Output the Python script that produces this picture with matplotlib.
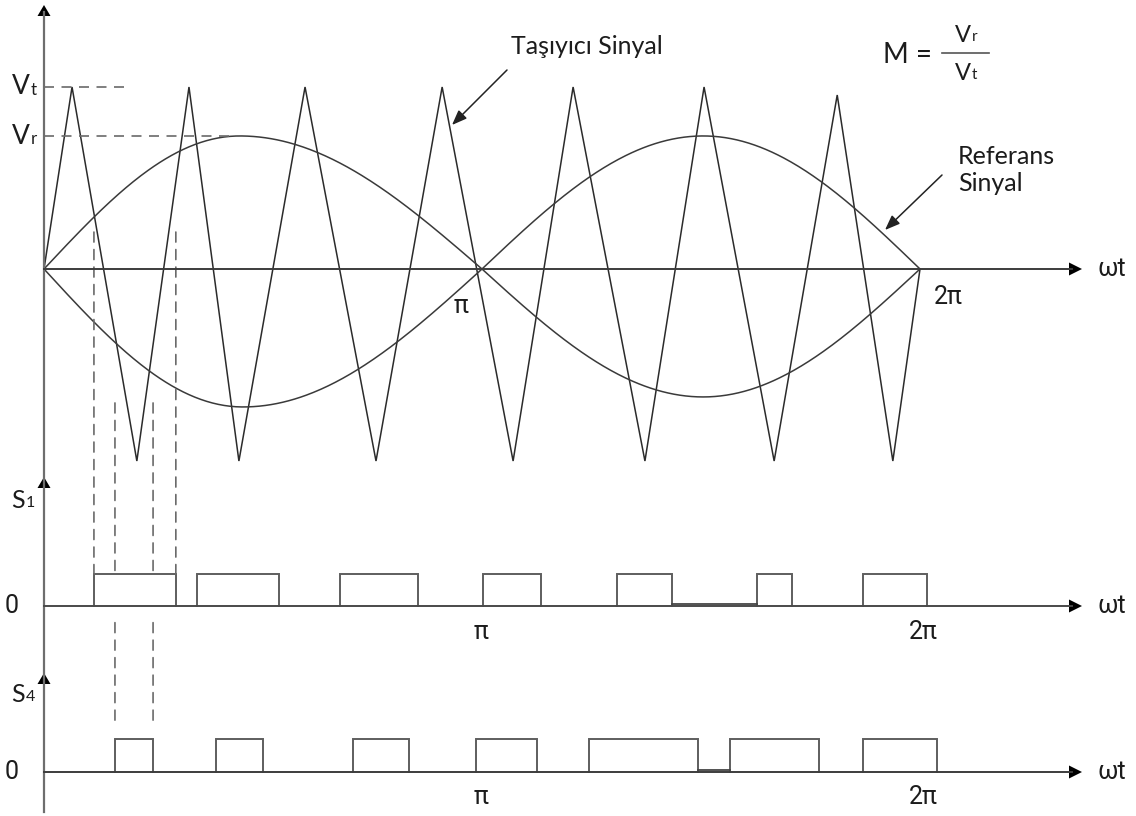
import numpy as np
import matplotlib
matplotlib.use("Agg")
import matplotlib.pyplot as plt
import matplotlib.transforms as mtransforms
from matplotlib.patches import ConnectionPatch, Polygon
from matplotlib.lines import Line2D

# ---------------- data (x axis in units of pi, omega*t / pi) ----------------
carrier_x = [0.0, 0.064, 0.212, 0.331, 0.445, 0.596, 0.758, 0.909, 1.071,
             1.208, 1.372, 1.507, 1.667, 1.811, 1.938, 2.0]
carrier_y = [0.0, 1.0, -1.055, 1.0, -1.055, 1.0, -1.055, 1.0, -1.055,
             1.0, -1.055, 1.0, -1.055, 0.956, -1.055, 0.0]
# reference sine humps (relative to Vt = 1): amplitude and position of the crest
ref_upper_amp = [0.731, 0.731]     # positive humps (0..pi, pi..2pi)
ref_upper_peak = [0.447, 1.505]
ref_lower_amp = [0.758, 0.703]     # negative humps (0..pi, pi..2pi)
ref_lower_peak = [0.454, 1.505]
Vt_level = 1.0
Vr_level = 0.731

s1_pulses = [(0.114, 0.301), (0.349, 0.537), (0.676, 0.854), (1.002, 1.135),
             (1.308, 1.434), (1.628, 1.708), (1.870, 2.016)]
s4_pulses = [(0.162, 0.249), (0.393, 0.500), (0.705, 0.833), (0.986, 1.126),
             (1.244, 1.493), (1.566, 1.769), (1.870, 2.039)]

# ---------------- figure / layout ----------------
W, H = 1136, 816
fig = plt.figure(figsize=(W / 100, H / 100), dpi=100)
fig.patch.set_facecolor("white")
PX = mtransforms.Affine2D().scale(1 / W, -1 / H).translate(0, 1) + fig.transFigure

X0_PX, PX_PER_PI = 44, 438
xlim = (-X0_PX / PX_PER_PI, (W - X0_PX) / PX_PER_PI)


def make_ax(top_px, bot_px, zero_px, unit_px):
    a = fig.add_axes([0, 1 - bot_px / H, 1, (bot_px - top_px) / H])
    a.set_xlim(*xlim)
    a.set_ylim((zero_px - bot_px) / unit_px, (zero_px - top_px) / unit_px)
    a.axis("off")
    a.patch.set_alpha(0)
    return a


ax = make_ax(0, 475, 269, 182)
ax1 = make_ax(475, 640, 606, 32)
ax4 = make_ax(640, 816, 772, 33)

TXT = "#1c1c1c"
SANS = ["Lato", "DejaVu Sans"]
DIN = ["Roboto", "DejaVu Sans"]
AXC = "#6e6e6e"

# ---------------- axes lines & arrowheads ----------------
fig.add_artist(Line2D([44, 44], [12, 812], transform=PX, color=AXC, lw=1.6))
for ytip in (5, 477, 673):
    fig.add_artist(Polygon([[44, ytip], [37.5, ytip + 11], [50.5, ytip + 11]],
                           closed=True, transform=PX, color="black", lw=0))
for ybase, col in ((269, "#3c3c3c"), (606, "#4a4a4a"), (772, "#3c3c3c")):
    fig.add_artist(Line2D([44, 1072], [ybase, ybase], transform=PX, color=col, lw=1.4))
    fig.add_artist(Polygon([[1082, ybase], [1069, ybase - 6.5], [1069, ybase + 6.5]],
                           closed=True, transform=PX, color="black", lw=0))
    fig.text(1112, ybase, "ωt", transform=PX, ha="center", va="center",
             fontsize=18, family=DIN, color=TXT)

# ---------------- top panel: carrier & reference ----------------
ax.plot(carrier_x, carrier_y, color="#2b2b2b", lw=1.1, solid_joinstyle="miter")


def hump(k, peak, amp):
    xs = np.linspace(k, k + 1, 300)
    rel = xs - k
    p = peak - k
    phase = np.where(rel <= p, 0.5 * rel / p, 0.5 + 0.5 * (rel - p) / (1 - p))
    return xs, amp * np.sin(np.pi * phase)


for k in range(2):
    xs, ys = hump(k, ref_upper_peak[k], ref_upper_amp[k])
    ax.plot(xs, ys, color="#3a3a3a", lw=1.1)
    xs, ys = hump(k, ref_lower_peak[k], ref_lower_amp[k])
    ax.plot(xs, -ys, color="#3a3a3a", lw=1.1)

DASH = dict(color="#6a6a6a", lw=1.2, linestyle=(0, (6, 4.5)))
ax.plot([0, 0.192], [Vt_level, Vt_level], **DASH)
ax.plot([0, 0.43], [Vr_level, Vr_level], **DASH)

# ---------------- pulse trains ----------------
PULSE = dict(color="#5e5e5e", lw=1.4, solid_joinstyle="miter")
for a, b in s1_pulses:
    ax1.plot([a, a, b, b], [0, 1, 1, 0], **PULSE)
for a, b in s4_pulses:
    ax4.plot([a, a, b, b], [0, 1, 1, 0], **PULSE)
# low-level segment of the pulse train drawn just above the axis
ax1.plot([s1_pulses[4][1], s1_pulses[5][0]], [0.06, 0.06], color="#444444", lw=1.3)
ax4.plot([s4_pulses[4][1], s4_pulses[5][0]], [0.06, 0.06], color="#444444", lw=1.3)

# dashed projection lines
for xv in s1_pulses[0]:
    fig.add_artist(ConnectionPatch(xyA=(xv, 0.203), coordsA=ax.transData,
                                   xyB=(xv, 1.0), coordsB=ax1.transData, **DASH))
for xv, yend in zip(s4_pulses[0], (1.37, 1.52)):
    fig.add_artist(ConnectionPatch(xyA=(xv, -0.736), coordsA=ax.transData,
                                   xyB=(xv, 1.0), coordsB=ax1.transData, **DASH))
    fig.add_artist(ConnectionPatch(xyA=(xv, -0.52), coordsA=ax1.transData,
                                   xyB=(xv, yend), coordsB=ax4.transData, **DASH))


# ---------------- labels ----------------
def sub_label(x, y, main, sub, size, ha="left"):
    t = fig.text(x, y, main, transform=PX, ha=ha, va="center", fontsize=size,
                 family=SANS, color=TXT)
    plt.annotate(sub, xy=(1, 0), xycoords=t, xytext=(0.5, 0.8),
                 textcoords="offset points", fontsize=size * 0.64,
                 family=SANS, color=TXT, ha="left", va="bottom",
                 annotation_clip=False)
    return t


sub_label(12, 87, "V", "t", 19)
sub_label(12, 136, "V", "r", 19)
sub_label(11, 500, "S", "1", 18)
sub_label(11, 694, "S", "4", 18)
for y0 in (606, 772):
    fig.text(12, y0, "0", transform=PX, ha="center", va="center", fontsize=18,
             family=DIN, color=TXT)

fig.text(461, 306, "π", transform=PX, ha="center", va="center", fontsize=18,
         family=DIN, color=TXT)
fig.text(948, 297, "2π", transform=PX, ha="center", va="center", fontsize=18,
         family=DIN, color=TXT)
for yl in (632, 797):
    fig.text(481, yl, "π", transform=PX, ha="center", va="center", fontsize=18,
             family=DIN, color=TXT)
    fig.text(923, yl, "2π", transform=PX, ha="center", va="center", fontsize=18,
             family=DIN, color=TXT)

# annotations
fig.text(587, 47, "Taşıyıcı Sinyal", transform=PX, ha="center", va="center",
         fontsize=18, family=SANS, color=TXT)
ax.annotate("", xy=(452, 125), xycoords=PX, xytext=(507, 70), textcoords=PX,
            arrowprops=dict(arrowstyle="-|>,head_length=0.9,head_width=0.35",
                            color="#222222", lw=1.1, shrinkA=0, shrinkB=0))
fig.text(958, 170, "Referans\nSinyal", transform=PX, ha="left", va="center",
         fontsize=18, family=SANS, color=TXT, linespacing=1.2)
ax.annotate("", xy=(885, 230), xycoords=PX, xytext=(942, 175), textcoords=PX,
            arrowprops=dict(arrowstyle="-|>,head_length=0.9,head_width=0.35",
                            color="#222222", lw=1.1, shrinkA=0, shrinkB=0))

# M = Vr / Vt
fig.text(883, 55, "M =", transform=PX, ha="left", va="center", fontsize=20,
         family=SANS, color=TXT)
fig.add_artist(Line2D([942, 989], [53, 53], transform=PX, color="#555555", lw=1.2))
sub_label(955, 35, "V", "r", 17)
sub_label(955, 73, "V", "t", 17)

fig.savefig("out.png", dpi=100, facecolor="white")
